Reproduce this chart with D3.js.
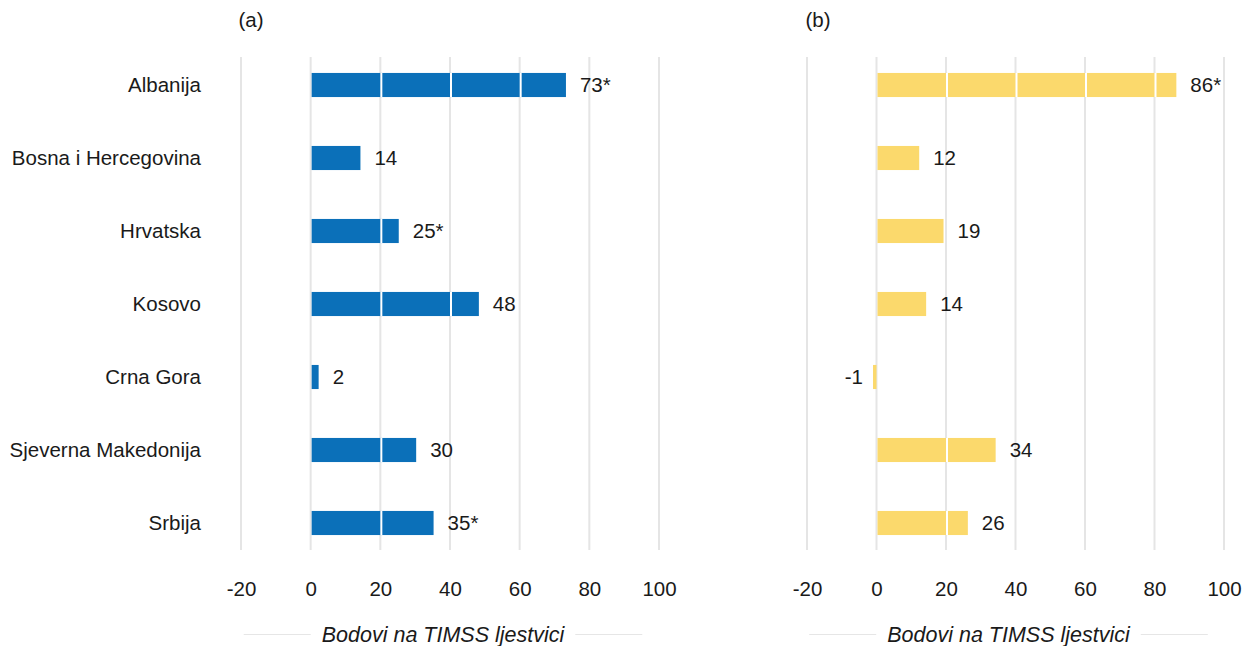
<!DOCTYPE html>
<html>
<head>
<meta charset="utf-8">
<script src="https://cdn.jsdelivr.net/npm/d3@7"></script>
<style>
  html, body { margin: 0; padding: 0; background: #fff; }
  svg text { font-family: "Liberation Sans", Arial, sans-serif; fill: #1a1a1a; }
</style>
</head>
<body>
<svg id="chart" width="1251" height="646"></svg>
<script>
// Countries (rows, top to bottom)
const categories = ["Albanija", "Bosna i Hercegovina", "Hrvatska", "Kosovo", "Crna Gora", "Sjeverna Makedonija", "Srbija"];

// Panel (a) values and their printed labels
const valuesA = [73, 14, 25, 48, 2, 30, 35];
const labelsA = ["73*", "14", "25*", "48", "2", "30", "35*"];

// Panel (b) values and their printed labels
const valuesB = [86, 12, 19, 14, -1, 34, 26];
const labelsB = ["86*", "12", "19", "14", "-1", "34", "26"];

// Shared axis ticks
const tickValues = [-20, 0, 20, 40, 60, 80, 100];
const axisTitle = "Bodovi na TIMSS ljestvici";

const svg = d3.select("#chart");

const yTop = 48.5, yBottom = 559.5;
const y = d3.scaleBand().domain(categories).range([yTop, yBottom]).paddingInner(0.67).paddingOuter(0.335);

function panel(opts) {
  const x = d3.scaleLinear().domain([-20, 100]).range([opts.x0, opts.x1]);
  const g = svg.append("g");

  // vertical grid
  g.append("g").selectAll("line").data(tickValues).join("line")
    .attr("x1", d => x(d)).attr("x2", d => x(d))
    .attr("y1", 57).attr("y2", 550)
    .attr("stroke", "#e5e5e5").attr("stroke-width", 2);

  const rows = categories.map((c, i) => ({ c, v: opts.values[i], label: opts.labels[i] }));

  // bars
  g.append("g").selectAll("rect").data(rows).join("rect")
    .attr("x", d => x(Math.min(0, d.v)) + (d.v >= 0 ? 1 : 0))
    .attr("width", d => Math.abs(x(d.v) - x(0)))
    .attr("y", d => y(d.c))
    .attr("height", y.bandwidth())
    .attr("fill", opts.color);

  // white grid breaks across bars
  rows.forEach(r => {
    const lo = Math.min(0, r.v), hi = Math.max(0, r.v);
    const inside = tickValues.filter(t => t > lo && t < hi && t !== 0);
    g.append("g").selectAll("line").data(inside).join("line")
      .attr("x1", t => x(t) + 1).attr("x2", t => x(t) + 1)
      .attr("y1", y(r.c)).attr("y2", y(r.c) + y.bandwidth())
      .attr("stroke", "#fff").attr("stroke-width", 2);
  });

  // value labels
  g.append("g").selectAll("text").data(rows).join("text")
    .attr("x", d => d.v >= 0 ? x(d.v) + 15 : x(d.v) - 10)
    .attr("y", d => y(d.c) + y.bandwidth() / 2)
    .attr("dy", "0.36em")
    .attr("text-anchor", d => d.v >= 0 ? "start" : "end")
    .attr("font-size", 20.5)
    .text(d => d.label);

  // x axis tick labels
  const axis = d3.axisBottom(x).tickValues(tickValues).tickSize(0).tickPadding(0)
    .tickFormat(d => String(d));
  const ag = g.append("g").attr("transform", "translate(0,581)").call(axis);
  ag.select(".domain").remove();
  ag.selectAll("text").attr("font-size", 20.5).attr("dy", "0.71em")
    .style("font-family", "'Liberation Sans', Arial, sans-serif").attr("fill", "#1a1a1a");

  // axis title with flanking rules
  const cx = (opts.x0 + opts.x1) / 2 - 7;
  const title = g.append("text")
    .attr("x", cx).attr("y", 642)
    .attr("text-anchor", "middle")
    .attr("font-size", 21.5).attr("font-style", "italic")
    .text(axisTitle);
  const w = title.node().getComputedTextLength();
  const gap = 11, rule = 67;
  g.append("line").attr("x1", cx - w / 2 - gap - rule).attr("x2", cx - w / 2 - gap)
    .attr("y1", 634.5).attr("y2", 634.5).attr("stroke", "#e6e6e6").attr("stroke-width", 1);
  g.append("line").attr("x1", cx + w / 2 + gap).attr("x2", cx + w / 2 + gap + rule)
    .attr("y1", 634.5).attr("y2", 634.5).attr("stroke", "#e6e6e6").attr("stroke-width", 1);

  // panel tag
  g.append("text").attr("x", opts.tagX).attr("y", 27)
    .attr("text-anchor", "middle").attr("font-size", 20.5).text(opts.tag);

  return x;
}

panel({ x0: 241, x1: 659, values: valuesA, labels: labelsA, color: "#0b70b9", tag: "(a)", tagX: 251 });
panel({ x0: 807, x1: 1224, values: valuesB, labels: labelsB, color: "#fbd96c", tag: "(b)", tagX: 818 });

// category labels
svg.append("g").selectAll("text").data(categories).join("text")
  .attr("x", 201)
  .attr("y", d => y(d) + y.bandwidth() / 2)
  .attr("dy", "0.36em")
  .attr("text-anchor", "end")
  .attr("font-size", 20.5)
  .text(d => d);
</script>
</body>
</html>
